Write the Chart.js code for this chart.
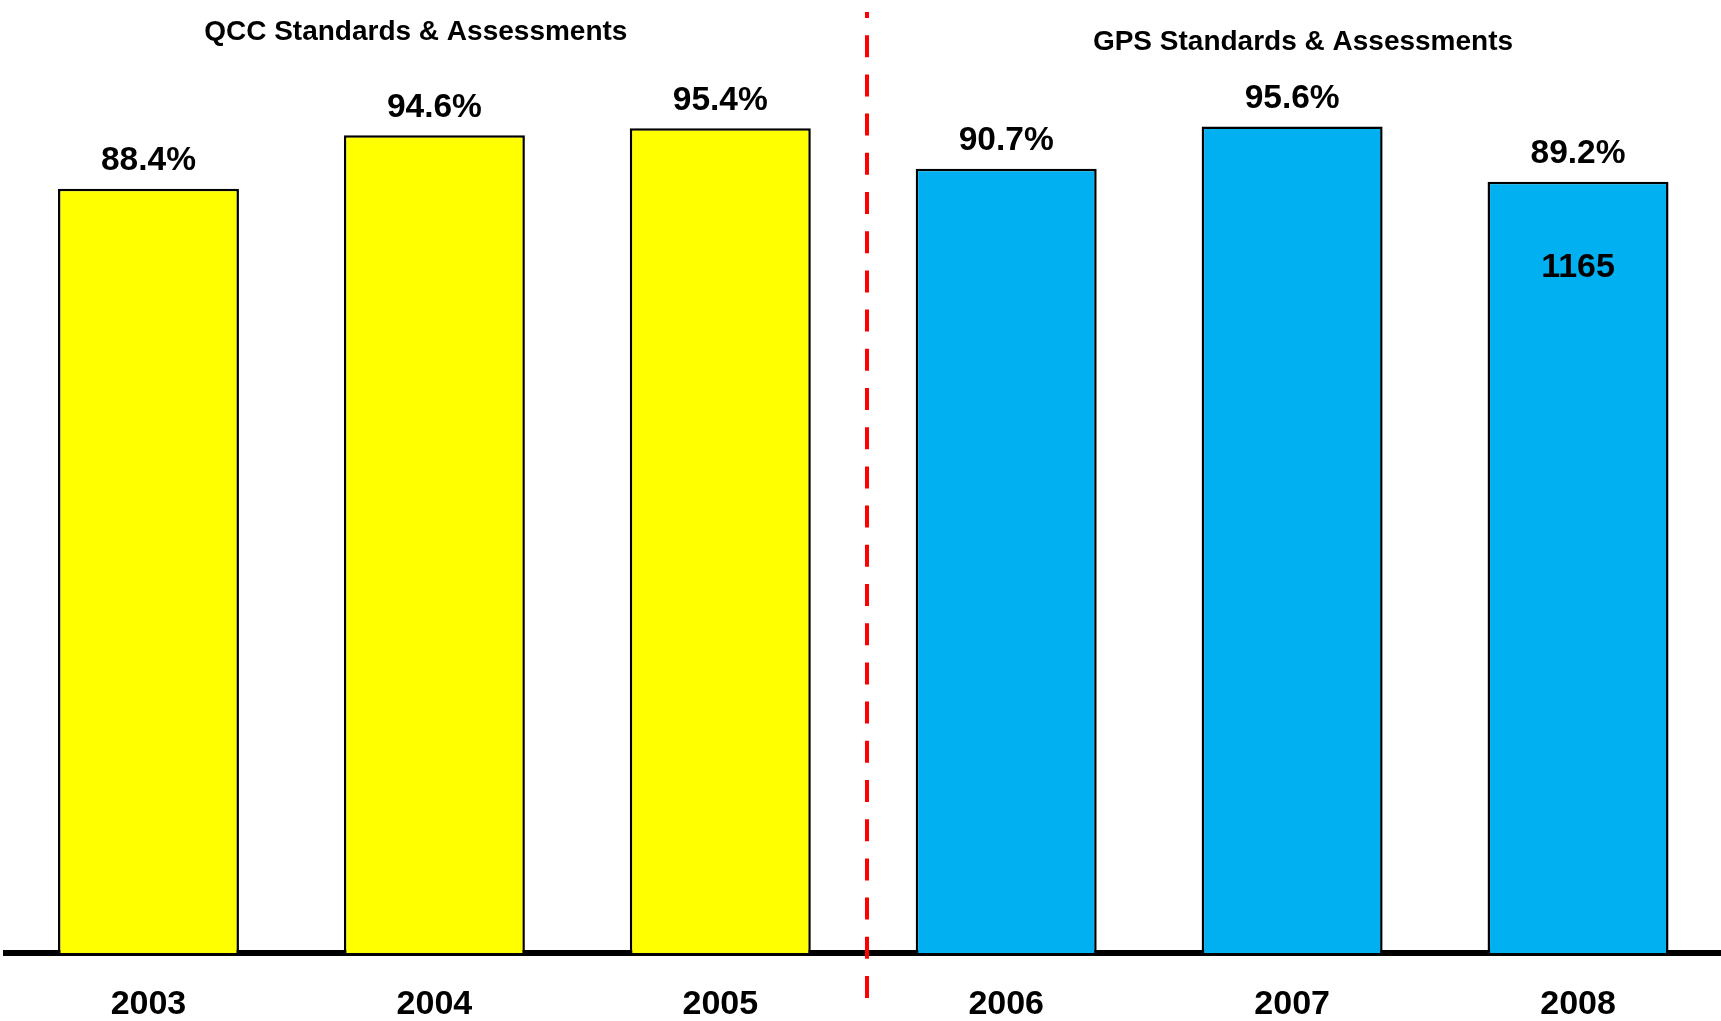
<!DOCTYPE html>
<html>
<head>
<meta charset="utf-8">
<script src="https://cdn.jsdelivr.net/npm/chart.js@4.4.1/dist/chart.umd.min.js"></script>
<style>
  html, body { margin: 0; padding: 0; background: #fff; overflow: hidden; }
  #wrap { width: 1721px; height: 1021px; }
</style>
</head>
<body>
<div id="wrap"><canvas id="passChart" width="1721" height="1021"></canvas></div>
<script>
const years = ['2003', '2004', '2005', '2006', '2007', '2008'];
const passRates = [88.4, 94.6, 95.4, 90.7, 95.6, 89.2];
const standards = ['QCC', 'QCC', 'QCC', 'GPS', 'GPS', 'GPS'];
const standardTitles = ['QCC Standards & Assessments', 'GPS Standards & Assessments'];
const noteText = '1165';
const noteYear = '2008';

const FONT = '"Liberation Sans", Arial, sans-serif';
const barColors = { QCC: '#FFFF00', GPS: '#00B0F0' };

const labelsPlugin = {
    id: 'barLabels',
    afterDatasetsDraw(chart) {
        const ctx = chart.ctx;
        const meta = chart.getDatasetMeta(0);
        ctx.save();
        ctx.fillStyle = '#000';
        ctx.textAlign = 'center';
        ctx.textBaseline = 'alphabetic';
        ctx.font = 'bold 33.5px ' + FONT;
        meta.data.forEach((bar, i) => {
            ctx.fillText(passRates[i].toFixed(1) + '%', bar.x, bar.y - 18.5);
        });
        const noteBar = meta.data[years.indexOf(noteYear)];
        ctx.font = 'bold 34px ' + FONT;
        ctx.fillText(noteText, noteBar.x, noteBar.y + 95);
        ctx.restore();
    },
    afterDraw(chart) {
        const ctx = chart.ctx;
        const x = chart.scales.x;
        ctx.save();
        // group titles
        ctx.fillStyle = '#000';
        ctx.textAlign = 'center';
        ctx.textBaseline = 'alphabetic';
        ctx.font = 'bold 28px ' + FONT;
        ctx.fillText(standardTitles[0], x.getPixelForValue(0.935), 40);
        ctx.fillText(standardTitles[1], x.getPixelForValue(4.038), 50);
        // divider between the two standards
        const dx = Math.round(x.getPixelForValue(2.514));
        ctx.strokeStyle = '#FF0000';
        ctx.lineWidth = 4;
        ctx.setLineDash([22, 17.2]);
        ctx.lineDashOffset = 16;
        ctx.beginPath();
        ctx.moveTo(dx, 12);
        ctx.lineTo(dx, 1000);
        ctx.stroke();
        ctx.restore();
    }
};

new Chart(document.getElementById('passChart'), {
    type: 'bar',
    data: {
        labels: years,
        datasets: [{
            data: passRates,
            backgroundColor: standards.map(s => barColors[s]),
            borderColor: '#000',
            borderWidth: 2.5,
            barPercentage: 0.633,
            categoryPercentage: 1
        }]
    },
    options: {
        responsive: false,
        devicePixelRatio: 1,
        animation: false,
        layout: { padding: { left: 5.5, right: -5, top: 2, bottom: 0 } },
        plugins: {
            legend: { display: false },
            tooltip: { enabled: false }
        },
        scales: {
            x: {
                z: 1,
                grid: { display: false, drawTicks: false },
                border: { display: true, color: '#000', width: 6 },
                ticks: {
                    color: '#000',
                    padding: 31.5,
                    font: { family: FONT, size: 34, weight: 'bold' }
                },
                afterFit(scale) { scale.height = 68; }
            },
            y: {
                display: false,
                min: 0,
                max: 110
            }
        }
    },
    plugins: [labelsPlugin]
});
</script>
</body>
</html>
